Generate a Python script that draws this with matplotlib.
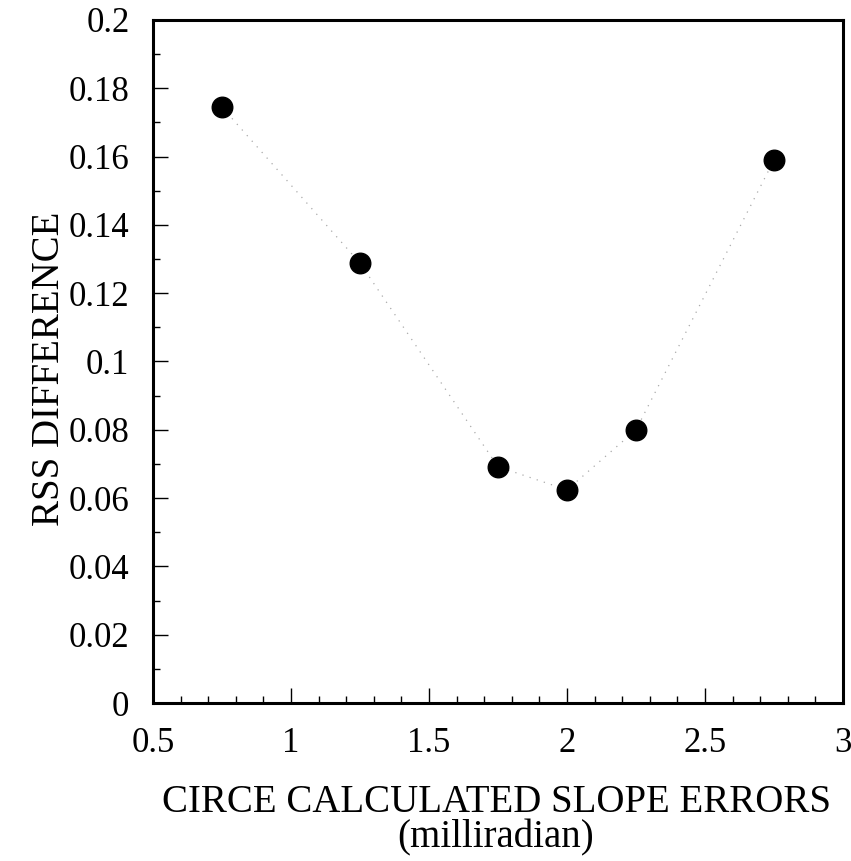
import matplotlib
matplotlib.use("Agg")
import matplotlib.pyplot as plt
from matplotlib.ticker import MultipleLocator

x_vals = [0.75, 1.25, 1.75, 2.0, 2.25, 2.75]
rss_diff = [0.1745, 0.1288, 0.0692, 0.0624, 0.0800, 0.1590]
x_ticks = [0.5, 1, 1.5, 2, 2.5, 3]
x_tick_labels = ["0.5", "1", "1.5", "2", "2.5", "3"]
y_ticks = [0, 0.02, 0.04, 0.06, 0.08, 0.1, 0.12, 0.14, 0.16, 0.18, 0.2]
y_tick_labels = ["0", "0.02", "0.04", "0.06", "0.08", "0.1", "0.12", "0.14", "0.16", "0.18", "0.2"]

plt.rcParams['font.family'] = ['Liberation Serif', 'DejaVu Serif']

W, H = 851, 861
fig = plt.figure(figsize=(W / 100, H / 100), dpi=100)
ax = fig.add_axes([153 / W, 1 - 703 / H, (843 - 153) / W, (703 - 20) / H])

ax.plot(x_vals, rss_diff, linestyle=(0, (1, 5)), color='#aaaaaa', linewidth=0.9, zorder=1)
ax.plot(x_vals, rss_diff, linestyle='none', marker='o', markersize=14.8,
        color='black', zorder=2)

ax.set_xlim(0.5, 3)
ax.set_ylim(0, 0.2)
ax.set_xticks(x_ticks)
ax.set_xticklabels(x_tick_labels)
ax.set_yticks(y_ticks)
ax.set_yticklabels(y_tick_labels)
ax.xaxis.set_minor_locator(MultipleLocator(0.1))
ax.yaxis.set_minor_locator(MultipleLocator(0.01))

ax.tick_params(which='major', direction='in', length=10.5, width=1.0, labelsize=25)
ax.tick_params(which='minor', direction='in', length=5, width=1.0)
ax.tick_params(axis='x', which='both', top=False)
ax.tick_params(axis='y', which='both', right=False)
ax.tick_params(axis='x', which='major', pad=17)
ax.tick_params(axis='y', which='major', pad=17)

for s in ax.spines.values():
    s.set_linewidth(2.2)

fig.text(50 / W, 1 - 369 / H, "RSS DIFFERENCE", rotation=90,
         ha='center', va='center', fontsize=28)
fig.text(496 / W, 1 - 812 / H, "CIRCE CALCULATED SLOPE ERRORS",
         ha='center', va='baseline', fontsize=28)
fig.text(496 / W, 1 - 847 / H, "(milliradian)",
         ha='center', va='baseline', fontsize=28)

fig.savefig("out.png", dpi=100)
